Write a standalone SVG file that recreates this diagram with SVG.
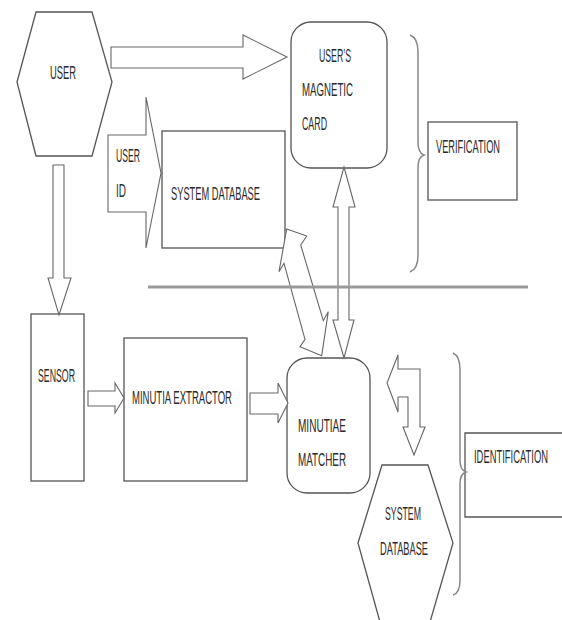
<svg xmlns="http://www.w3.org/2000/svg" width="562" height="620" viewBox="0 0 562 620">
<style>
.box{fill:#fff;stroke:#555;stroke-width:1.3}
.arr{fill:#fff;stroke:#666;stroke-width:1.1;stroke-linejoin:miter}
.brace{fill:none;stroke:#888;stroke-width:1.5}
.sep{stroke:#999;stroke-width:3}
text{font-family:"Liberation Sans Narrow","Liberation Sans",Arial,sans-serif;font-size:17.5px;fill:#2a2a2a}
</style>
<rect width="562" height="620" fill="#fff"/>
<g id="user">
<polygon class="box" points="36,12 92,12 112,82 92,156 36,156 17,82"/>
<text x="50" y="79" textLength="26" lengthAdjust="spacingAndGlyphs">USER</text>
</g>
<g id="system-database-top">
<rect class="box" x="162" y="131" width="123" height="117"/>
<text x="171" y="200" textLength="89" lengthAdjust="spacingAndGlyphs">SYSTEM DATABASE</text>
</g>
<g id="magnetic-card">
<rect class="box" x="291" y="22" width="96" height="146" rx="20"/>
<text x="319" y="62" textLength="32" lengthAdjust="spacingAndGlyphs">USER’S</text>
<text x="302" y="96" textLength="51" lengthAdjust="spacingAndGlyphs">MAGNETIC</text>
<text x="302" y="130" textLength="25" lengthAdjust="spacingAndGlyphs">CARD</text>
</g>
<g id="verification">
<rect class="box" x="428" y="122" width="89" height="78"/>
<text x="436" y="153" textLength="64" lengthAdjust="spacingAndGlyphs">VERIFICATION</text>
</g>
<g id="sensor">
<rect class="box" x="31" y="314" width="53" height="167"/>
<text x="38" y="382" textLength="37" lengthAdjust="spacingAndGlyphs">SENSOR</text>
</g>
<g id="minutia-extractor">
<rect class="box" x="124" y="338" width="123" height="143"/>
<text x="132" y="404" textLength="100" lengthAdjust="spacingAndGlyphs">MINUTIA EXTRACTOR</text>
</g>
<g id="minutiae-matcher">
<rect class="box" x="287" y="358" width="83" height="135" rx="20"/>
<text x="298" y="432" textLength="48" lengthAdjust="spacingAndGlyphs">MINUTIAE</text>
<text x="298" y="466" textLength="48" lengthAdjust="spacingAndGlyphs">MATCHER</text>
</g>
<g id="system-database-bottom">
<polygon class="box" points="382,465 428,465 453,543 430,622 380,622 358,543"/>
<text x="385" y="520" textLength="36" lengthAdjust="spacingAndGlyphs">SYSTEM</text>
<text x="380" y="555" textLength="48" lengthAdjust="spacingAndGlyphs">DATABASE</text>
</g>
<g id="identification">
<path class="box" d="M562,433 L465,433 L465,517 L562,517"/>
<text x="474" y="463" textLength="74" lengthAdjust="spacingAndGlyphs">IDENTIFICATION</text>
</g>
<g id="verification-brace">
<path class="brace" d="M410,35 Q418,38 418,52 L418,142 Q418,153 424,155 Q418,157 418,168 L418,255 Q418,269 410,272"/>
</g>
<g id="identification-brace">
<path class="brace" d="M453,353 Q460,356 460,370 L460,460 Q460,470 466,472 Q460,474 460,484 L460,580 Q460,593 453,595"/>
</g>
<g id="connectors">
<polygon class="arr" points="111,47 243,47 243,35 287,57 243,79 243,68 111,68"/>
<polygon class="arr" points="108,135 146,135 146,97 161,173 146,248 146,212 108,212"/>
<text x="116" y="162" textLength="24" lengthAdjust="spacingAndGlyphs">USER</text>
<text x="116" y="197" textLength="10" lengthAdjust="spacingAndGlyphs">ID</text>
<polygon class="arr" points="53,165 64,165 64,278 71,278 59,315 48,278 53,278"/>
<polygon class="arr" points="88,391 115,391 115,383 124,398 115,413 115,406 88,406"/>
<polygon class="arr" points="250,393 278,393 278,383 288,403 278,423 278,414 250,414"/>
<polygon class="arr" points="344,167 355,207 349,207 349,320 354,320 344,358 333,320 338,320 338,207 333,207"/>
<polygon class="arr" points="286.7,229 306.7,236 300.7,245 323.3,320.7 328.3,311.7 321.7,355.7 300,346.7 305,339.3 284,263.3 279,271.7"/>
<polygon class="arr" points="398,355 387,383 398,412 398,397 408,397 408,427 403,427 414,455 425,427 420,427 420,369 398,369"/>
</g>
<line class="sep" x1="148" y1="287" x2="528" y2="287"/>
</svg>
